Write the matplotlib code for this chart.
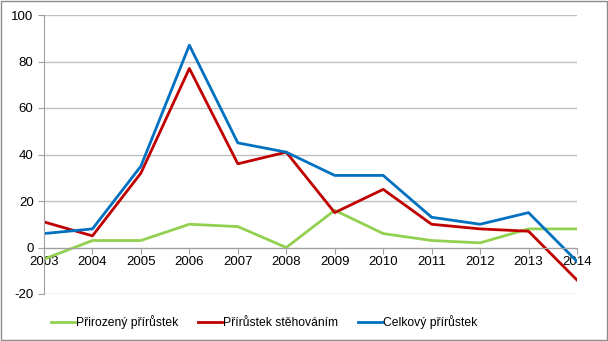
import matplotlib.pyplot as plt
from matplotlib.patches import Rectangle

# --- data ---
roky = [2003, 2004, 2005, 2006, 2007, 2008, 2009, 2010, 2011, 2012, 2013, 2014]
prirozeny = [-5, 3, 3, 10, 9, 0, 16, 6, 3, 2, 8, 8]
stehovani = [11, 5, 32, 77, 36, 41, 15, 25, 10, 8, 7, -14]
celkovy = [6, 8, 35, 87, 45, 41, 31, 31, 13, 10, 15, -6]

plt.rcParams['font.family'] = ['Liberation Sans', 'DejaVu Sans']
plt.rcParams['axes.unicode_minus'] = False

fig = plt.figure(figsize=(6.08, 3.41), dpi=100)
ax = fig.add_axes([44/608, 1 - 294/341, (577 - 44)/608, (294 - 15)/341])

x = list(range(len(roky)))
ax.plot(x, prirozeny, color='#92D050', lw=2, label='Přirozený přírůstek')
ax.plot(x, stehovani, color='#C00000', lw=2, label='Přírůstek stěhováním')
ax.plot(x, celkovy, color='#0070C0', lw=2, label='Celkový přírůstek')

ax.set_xlim(0, len(roky) - 1)
ax.set_ylim(-20, 100)
ax.set_yticks(range(-20, 101, 20))
ax.set_xticks(x)
ax.set_xticklabels([str(r) for r in roky])
ax.yaxis.grid(True, color='#BFBFBF', lw=1)
ax.set_axisbelow(True)

for s in ['top', 'right']:
    ax.spines[s].set_visible(False)
ax.spines['bottom'].set_position(('data', 0))
ax.spines['bottom'].set_color('#A0A0A0')
ax.spines['left'].set_color('#A0A0A0')
ax.tick_params(axis='both', colors='#A0A0A0', labelcolor='black', labelsize=9.5, length=4)
ax.tick_params(axis='x', pad=2)

fig.legend(loc='center', bbox_to_anchor=(264/608, 1 - 322/341), ncol=3, frameon=False,
           fontsize=8.7, handlelength=2.0, handletextpad=0.1, columnspacing=1.6)

fig.patches.append(Rectangle((0.001, 0.002), 0.997, 0.995, transform=fig.transFigure,
                             fill=False, edgecolor='#8C8C8C', lw=1))

fig.savefig('out.png', dpi=100)
